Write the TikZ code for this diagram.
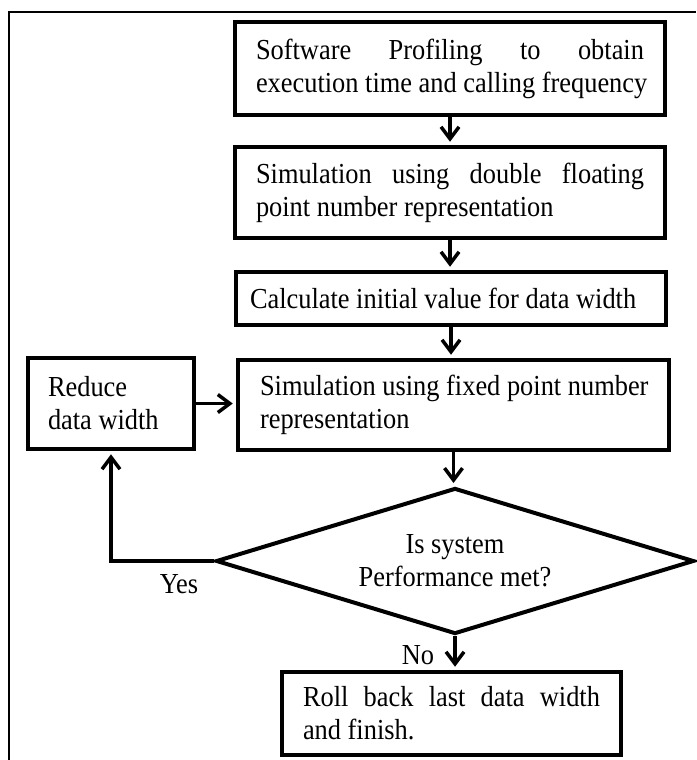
\documentclass[tikz,border=0pt]{standalone}
\usepackage{fontspec}
\setmainfont{Liberation Serif}[FakeStretch=0.91]
\usetikzlibrary{arrows.meta,shapes.geometric,calc}
\begin{document}
\begin{tikzpicture}[x=1pt,y=-1pt,
  every node/.style={font=\fontsize{29}{33}\selectfont},
  procbox/.style={draw, line width=4.5pt, align=flush left, inner ysep=0pt},
  flow/.style={draw, line width=3.5pt, -{Straight Barb[length=12pt,width=18pt]}, shorten >=3pt},
]
\useasboundingbox (0,0) rectangle (696,760);
\draw[line width=1.8pt] (9,760) -- (9,12) -- (696,12);

\node[procbox, inner xsep=21pt, text width=388pt, minimum height=93pt] (b1) at (450,68.5)
  {\noindent\makebox[\hsize][s]{Software\hfill Profiling\hfill to\hfill obtain}\\ \mbox{execution time and calling frequency}};
\node[procbox, inner xsep=21pt, text width=388pt, minimum height=91pt] (b2) at (450,192.5)
  {\noindent\makebox[\hsize][s]{Simulation\hfill using\hfill double\hfill floating}\\ \mbox{point number representation}};
\node[procbox, inner xsep=14pt, text width=402pt, minimum height=53pt] (b3) at (451,298.5)
  {\mbox{Calculate initial value for data width}};
\node[procbox, inner xsep=22pt, text width=387pt, minimum height=90pt] (b4) at (453.5,405)
  {\mbox{Simulation using fixed point number}\\ \mbox{representation}};
\node[procbox, inner xsep=20pt, text width=126pt, minimum height=91pt] (red) at (111,403.5)
  {\mbox{Reduce}\\ \mbox{data width}};
\node[draw, diamond, aspect=3.27, line width=4pt, minimum width=478pt, minimum height=146pt,
  inner sep=0pt, align=center] (d) at (455,561) {Is system\\Performance met?};
\node[procbox, inner xsep=21pt, text width=297pt, minimum height=83pt] (b5) at (451.5,713.5)
  {\noindent\makebox[\hsize][s]{Roll\hfill back\hfill last\hfill data\hfill width}\\ \mbox{and finish.}};

\node (yeslab) at (179,584) {Yes};
\node (nolab) at (418,655) {No};

\draw[flow] (b1.south) -- (b1.south |- b2.north);
\draw[flow] (b2.south) -- (b2.south |- b3.north);
\draw[flow] (b3.south) -- (b3.south |- b4.north);
\draw[flow] (b4.south) -- (b4.south |- d.north);
\draw[flow] (d.south) -- (d.south |- b5.north);
\draw[flow] (d.west) -| (red.south);
\draw[flow] (red.east) -- (red.east -| b4.west);
\end{tikzpicture}
\end{document}
